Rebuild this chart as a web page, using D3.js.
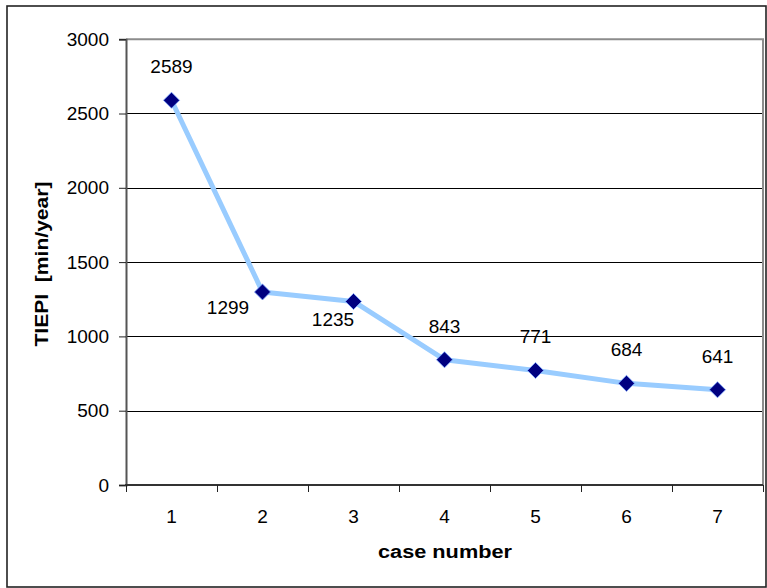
<!DOCTYPE html>
<html>
<head>
<meta charset="utf-8">
<script src="https://cdn.jsdelivr.net/npm/d3@7"></script>
<style>
  html, body { margin: 0; padding: 0; background: #fff; }
  svg { display: block; font-family: "Liberation Sans", Arial, sans-serif; }
</style>
</head>
<body>
<svg id="chart" width="767" height="588"></svg>
<script>
// ---- data ----
const categories = ["1", "2", "3", "4", "5", "6", "7"];
const values = [2589, 1299, 1235, 843, 771, 684, 641];
const labelPlacement = ["above", "belowLeft", "belowLeftNear", "above", "above", "above", "above"];
const yTicks = [0, 500, 1000, 1500, 2000, 2500, 3000];
const yTitle = "TIEPI  [min/year]";
const xTitle = "case number";

// ---- layout ----
const W = 767, H = 588;
const plot = { left: 126, right: 763, top: 39.2, bottom: 485 };

const svg = d3.select("#chart");

// outer chart border
svg.append("rect")
  .attr("x", 7).attr("y", 6)
  .attr("width", 759).attr("height", 581)
  .attr("fill", "#fff").attr("stroke", "#222").attr("stroke-width", 1.6);

const x = d3.scaleBand().domain(categories).range([plot.left, plot.right]).padding(0);
const y = d3.scaleLinear().domain([0, 3000]).range([plot.bottom, plot.top]);

// gridlines
svg.append("g").selectAll("line")
  .data(yTicks.filter(t => t > 0 && t < 3000))
  .join("line")
  .attr("x1", plot.left).attr("x2", plot.right)
  .attr("y1", d => Math.round(y(d)) + 0.5).attr("y2", d => Math.round(y(d)) + 0.5)
  .attr("stroke", "#000").attr("stroke-width", 1);

// plot border top & right (gray)
svg.append("path")
  .attr("d", `M${plot.left},${plot.top}H${plot.right}V${plot.bottom}`)
  .attr("fill", "none").attr("stroke", "#8c8c8c").attr("stroke-width", 2);

// y axis
const yAxis = d3.axisLeft(y).tickValues(yTicks).tickSize(7).tickPadding(10).tickFormat(d3.format("d"));
const gy = svg.append("g").attr("transform", `translate(${plot.left},0)`).call(yAxis);
gy.select(".domain").attr("stroke", "#555").attr("stroke-width", 2);
gy.selectAll(".tick line").attr("stroke", "#222").attr("stroke-width", 1);
gy.selectAll(".tick text").attr("font-size", 19).attr("fill", "#000")
  .attr("font-family", "Liberation Sans, Arial, sans-serif");

// x axis (labels at band centres, ticks at band boundaries)
const xAxis = d3.axisBottom(x).tickSize(0).tickPadding(0);
const gx = svg.append("g").attr("transform", `translate(0,${plot.bottom})`).call(xAxis);
gx.select(".domain").remove();
gx.selectAll(".tick text").attr("font-size", 19).attr("fill", "#000")
  .attr("font-family", "Liberation Sans, Arial, sans-serif")
  .attr("dy", null).attr("y", 38);

svg.append("line")
  .attr("x1", plot.left - 1).attr("x2", plot.right)
  .attr("y1", plot.bottom).attr("y2", plot.bottom)
  .attr("stroke", "#333").attr("stroke-width", 2);

const boundaries = categories.map(c => x(c)).concat([x.range()[1]]);
svg.append("g").selectAll("line").data(boundaries).join("line")
  .attr("x1", d => Math.round(d) + 0.5).attr("x2", d => Math.round(d) + 0.5)
  .attr("y1", plot.bottom).attr("y2", plot.bottom + 7)
  .attr("stroke", "#222").attr("stroke-width", 1);

// line
const pts = categories.map((c, i) => [x(c) + x.bandwidth() / 2, y(values[i])]);
svg.append("path")
  .attr("d", d3.line()(pts))
  .attr("fill", "none").attr("stroke", "#99ccff").attr("stroke-width", 5)
  .attr("stroke-linejoin", "round");

// markers
const sym = d3.symbol().type(d3.symbolDiamond2).size(165);
svg.append("g").selectAll("path").data(pts).join("path")
  .attr("transform", d => `translate(${d[0]},${d[1]})`)
  .attr("d", sym)
  .attr("fill", "#000080").attr("stroke", "#7fa8ff").attr("stroke-width", 0.8);

// data labels
const offsets = {
  above: [0, -27],
  belowLeft: [-34.5, 22],
  belowLeftNear: [-20.5, 24.7]
};
svg.append("g").selectAll("text").data(pts).join("text")
  .attr("x", (d, i) => d[0] + offsets[labelPlacement[i]][0])
  .attr("y", (d, i) => d[1] + offsets[labelPlacement[i]][1])
  .attr("text-anchor", "middle")
  .attr("font-size", 19).attr("fill", "#000")
  .text((d, i) => values[i]);

// axis titles
svg.append("text")
  .attr("transform", `translate(48,264) rotate(-90)`)
  .attr("text-anchor", "middle")
  .attr("font-size", 18).attr("font-weight", "bold")
  .attr("textLength", 165).attr("lengthAdjust", "spacingAndGlyphs")
  .style("white-space", "pre")
  .text(yTitle);

svg.append("text")
  .attr("x", 445).attr("y", 558)
  .attr("text-anchor", "middle")
  .attr("font-size", 18).attr("font-weight", "bold")
  .attr("textLength", 134).attr("lengthAdjust", "spacingAndGlyphs")
  .text(xTitle);
</script>
</body>
</html>
